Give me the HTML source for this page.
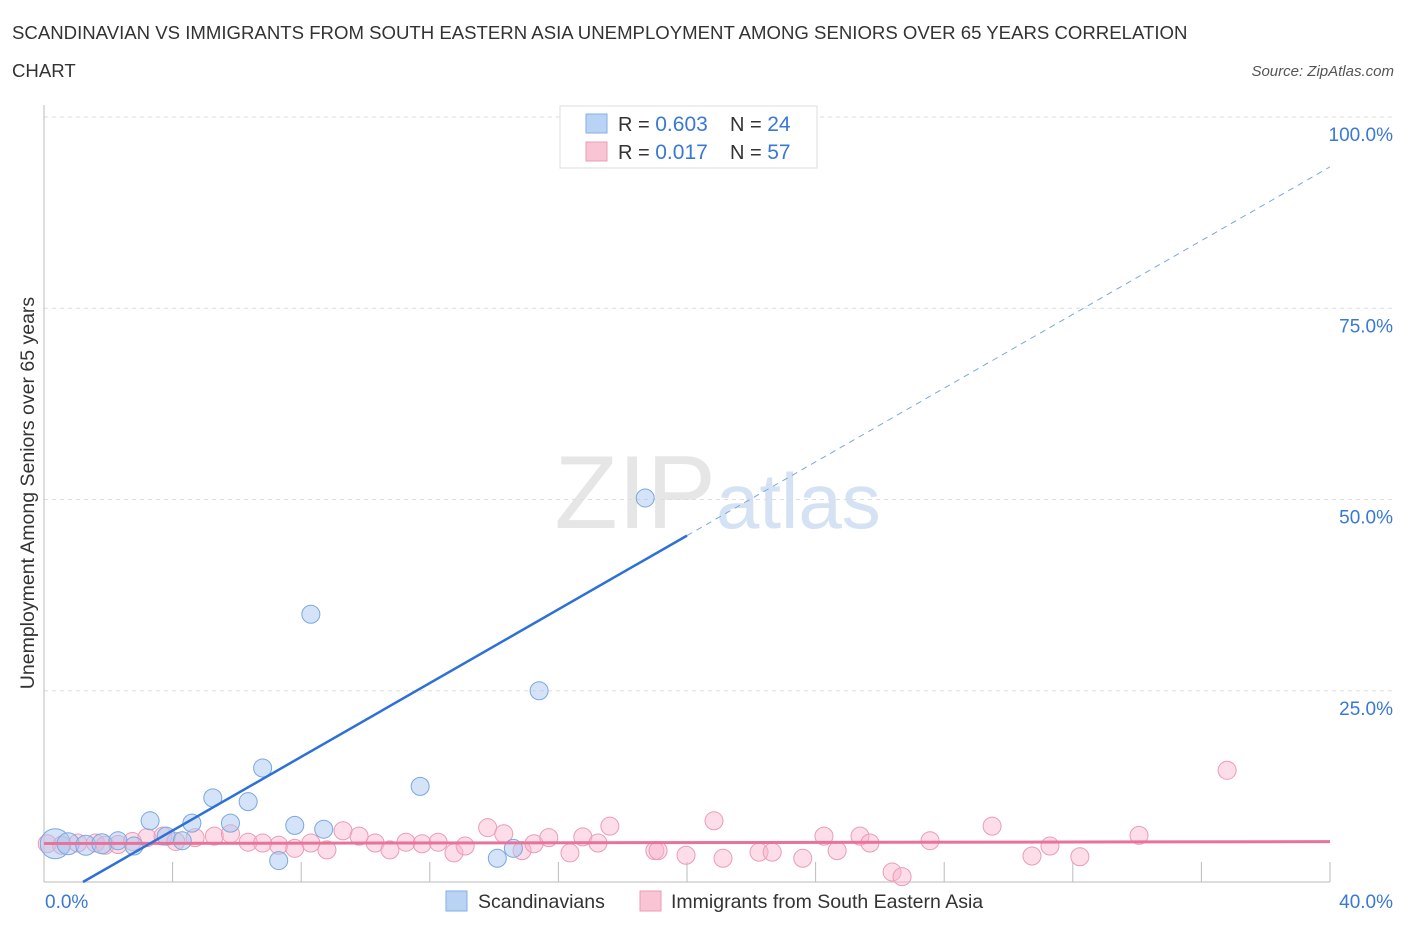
<!DOCTYPE html>
<html><head><meta charset="utf-8"><style>
body{margin:0;background:#fff;font-family:"Liberation Sans",sans-serif;}
svg text{font-family:"Liberation Sans",sans-serif;}
</style></head><body>
<svg id="chart" width="1406" height="930" xmlns="http://www.w3.org/2000/svg">
<text x="12" y="39" font-size="18.6" fill="#333">SCANDINAVIAN VS IMMIGRANTS FROM SOUTH EASTERN ASIA UNEMPLOYMENT AMONG SENIORS OVER 65 YEARS CORRELATION</text>
<text x="12" y="77" font-size="18.6" fill="#333">CHART</text>
<text x="1394" y="76" font-size="15" fill="#555" font-style="italic" text-anchor="end">Source: ZipAtlas.com</text>
<text x="34" y="493" font-size="19.5" fill="#333" text-anchor="middle" transform="rotate(-90 34 493)">Unemployment Among Seniors over 65 years</text>
<text x="716" y="528" font-size="104" fill="#e6e6e6" text-anchor="end" font-family="Liberation Serif">ZIP</text>
<text x="716" y="528" font-size="78" fill="#d4e2f3">atlas</text>
<g id="grid"></g>
<g id="marks"></g>
<g>
<rect x="560" y="106" width="257" height="62" fill="#fff" stroke="#ddd"/>
<rect x="586" y="114" width="21" height="19" fill="#b9d3f5" stroke="#86aee6"/>
<rect x="586" y="142" width="21" height="19" fill="#f9c4d4" stroke="#eb9cb6"/>
<text x="618" y="131" font-size="20" fill="#333">R = <tspan fill="#3a78d6" font-size="21">0.603</tspan></text>
<text x="730" y="131" font-size="20" fill="#333">N = <tspan fill="#3a78d6" font-size="21">24</tspan></text>
<text x="618" y="159" font-size="20" fill="#333">R = <tspan fill="#3a78d6" font-size="21"> 0.017</tspan></text>
<text x="730" y="159" font-size="20" fill="#333">N = <tspan fill="#3a78d6" font-size="21">57</tspan></text>
</g>
<g>
<rect x="446" y="891" width="21" height="20" fill="#b9d3f5" stroke="#86aee6"/>
<text x="478" y="908" font-size="19.5" fill="#333">Scandinavians</text>
<rect x="640" y="891" width="21" height="20" fill="#f9c4d4" stroke="#eb9cb6"/>
<text x="671" y="908" font-size="19.5" fill="#333">Immigrants from South Eastern Asia</text>
</g>
</svg>
<script>
const xTicks=[0,4,8,12,16,20,24,28,32,36,40];
const yTicks=[25,50,75,100];
const yTickLabels=["25.0%","50.0%","75.0%","100.0%"];
const scandX=[0.35,0.75,1.3,1.8,2.3,2.8,3.3,3.8,4.3,4.6,5.25,5.8,6.35,6.8,7.3,7.8,8.3,8.7,11.7,14.1,14.6,15.4,16.6,18.7];
const scandY=[5.0,5.0,4.8,5.0,5.4,4.7,8.0,6.0,5.4,7.7,11.0,7.7,10.5,14.9,2.8,7.4,35.0,6.9,12.5,3.1,4.4,25.0,100,50.2];
const scandR=[15,11,10,10,9,9,9,9,9,9,9,9,9,9,9,9,9,9,9,9,9,9,9,9];
const immX=[0.1,0.55,1.05,1.6,1.9,2.3,2.75,3.2,3.7,4.1,4.7,5.3,5.8,6.35,6.8,7.3,7.8,8.3,8.8,9.3,9.8,10.3,10.76,11.26,11.76,12.26,12.75,13.1,13.8,14.3,14.87,15.24,15.7,16.36,16.76,17.23,17.6,19.0,19.1,19.97,20.84,21.12,22.24,22.65,23.6,24.26,24.67,25.38,25.69,26.38,26.69,27.56,29.49,30.73,31.29,32.22,34.06,36.8];
const immY=[5.0,4.8,5.1,5.1,4.8,4.9,5.3,5.8,6.0,5.3,5.8,6.0,6.3,5.2,5.1,4.8,4.4,5.1,4.2,6.7,6.0,5.1,4.2,5.2,5.0,5.2,3.8,4.7,7.1,6.3,4.1,5.0,5.8,3.8,5.9,5.1,7.3,4.1,4.1,3.5,8.0,3.1,3.9,3.9,3.1,6.0,4.1,6.0,5.1,1.3,0.7,5.4,7.3,3.4,4.7,3.3,6.1,14.6];
const X0=44,X1=1330,Y0=882,Y1=117;
const sx=v=>X0+(X1-X0)*v/40, sy=v=>Y0-(Y0-Y1)*v/100;
const NS="http://www.w3.org/2000/svg";
function mk(tag,attrs,parent){const e=document.createElementNS(NS,tag);for(const k in attrs)e.setAttribute(k,attrs[k]);parent.appendChild(e);return e;}
const grid=document.getElementById('grid'), marks=document.getElementById('marks');
yTicks.forEach((t,i)=>{
 const l=mk('line',{x1:X0,x2:X1+64,y1:sy(t),y2:sy(t),stroke:'#ddd','stroke-dasharray':'4,4'},grid);
 
 
 const tx=mk('text',{x:1393,y:sy(t)+24,'font-size':19,fill:'#3a78d6','text-anchor':'end'},grid);
 tx.textContent=yTickLabels[i];
 
 
});
const ax=mk('line',{x1:X0,x2:X0,y1:105,y2:Y0,stroke:'#bbb'},grid);


const bx=mk('line',{x1:X0,x2:X1,y1:Y0,y2:Y0,stroke:'#bbb'},grid);


xTicks.slice(1).forEach(t=>{
 const l=mk('line',{x1:sx(t),x2:sx(t),y1:Y0-20,y2:Y0,stroke:'#bbb'},grid);
 
 
});
const xl0=mk('text',{x:45,y:908,'font-size':19,fill:'#3a78d6'},grid);xl0.textContent=xTicks[0].toFixed(1)+'%';


const xl1=mk('text',{x:1393,y:908,'font-size':19,fill:'#3a78d6','text-anchor':'end'},grid);xl1.textContent=xTicks[xTicks.length-1].toFixed(1)+'%';


immX.forEach((x,i)=>{
 const c=mk('circle',{cx:sx(x),cy:sy(immY[i]),r:9,fill:'rgba(249,180,203,0.45)',stroke:'#eb9cb6','stroke-width':1},marks);
 
 
});
scandX.forEach((x,i)=>{
 const c=mk('circle',{cx:sx(x),cy:sy(scandY[i]),r:scandR[i],fill:'rgba(170,200,240,0.5)',stroke:'#7aa7e0','stroke-width':1},marks);
 
 
});
function fit(xs,ys){const n=xs.length,mx=xs.reduce((a,b)=>a+b)/n,my=ys.reduce((a,b)=>a+b)/n;let sxy=0,sxx=0;xs.forEach((x,i)=>{sxy+=(x-mx)*(ys[i]-my);sxx+=(x-mx)**2;});const b=sxy/sxx;return [my-b*mx,b];}
const [ia,ib]=fit(immX,immY);
const pl=mk('line',{x1:sx(0),y1:sy(ia),x2:sx(40),y2:sy(ia+ib*40),stroke:'#e8729a','stroke-width':3},marks);


const sa=-2.92, sb=2.41;
const x0=-sa/sb, xs=20;
const bl=mk('line',{x1:sx(x0),y1:sy(0),x2:sx(xs),y2:sy(sa+sb*xs),stroke:'#2c70d8','stroke-width':2.5},marks);


const bd=mk('line',{x1:sx(xs),y1:sy(sa+sb*xs),x2:sx(40),y2:sy(sa+sb*40),stroke:'#7aa7e0','stroke-width':1,'stroke-dasharray':'6,5'},marks);


</script>
</body></html>
